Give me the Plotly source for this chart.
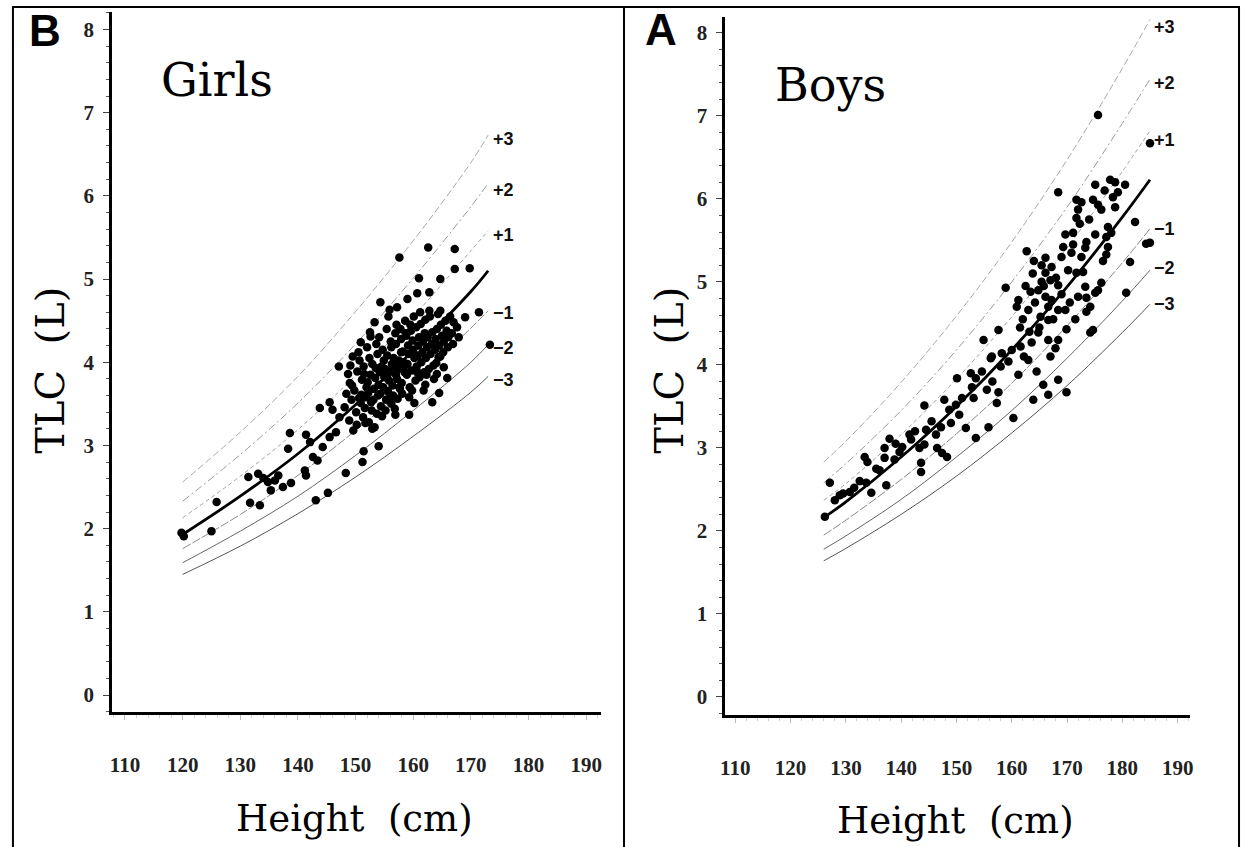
import plotly.graph_objects as go

# ---------------- data ----------------
sd_labels = ["+3", "+2", "+1", "\u22121", "\u22122", "\u22123"]

# girls reference curves (height cm -> TLC L)
girls_curve_height = [120, 130, 140, 150, 160, 170, 173]
girls_mean = [1.93, 2.39, 2.90, 3.49, 4.14, 4.85, 5.10]
girls_p3 = [2.56, 3.16, 3.83, 4.61, 5.46, 6.40, 6.73]
girls_p2 = [2.33, 2.89, 3.51, 4.22, 5.01, 5.87, 6.15]
girls_p1 = [2.13, 2.63, 3.19, 3.84, 4.55, 5.34, 5.58]
girls_m1 = [1.76, 2.17, 2.64, 3.18, 3.77, 4.41, 4.62]
girls_m2 = [1.59, 1.97, 2.39, 2.88, 3.42, 4.00, 4.21]
girls_m3 = [1.45, 1.79, 2.18, 2.62, 3.11, 3.64, 3.83]
girls_label_height = 175.7
girls_label_tlc = [6.68, 6.07, 5.53, 4.59, 4.17, 3.79]

# boys reference curves
boys_curve_height = [126, 130, 140, 150, 160, 170, 180, 185]
boys_mean = [2.16, 2.35, 2.89, 3.50, 4.18, 4.94, 5.78, 6.23]
boys_p3 = [2.83, 3.08, 3.79, 4.59, 5.48, 6.47, 7.57, 8.16]
boys_p2 = [2.58, 2.81, 3.45, 4.18, 5.00, 5.90, 6.91, 7.44]
boys_p1 = [2.37, 2.57, 3.16, 3.83, 4.58, 5.41, 6.33, 6.82]
boys_m1 = [1.95, 2.13, 2.62, 3.17, 3.78, 4.47, 5.23, 5.64]
boys_m2 = [1.78, 1.94, 2.38, 2.89, 3.45, 4.08, 4.77, 5.14]
boys_m3 = [1.64, 1.79, 2.20, 2.66, 3.18, 3.75, 4.39, 4.73]
boys_label_height = 187.7
boys_label_tlc = [8.07, 7.39, 6.71, 5.64, 5.17, 4.73]

# individual measurements (height, TLC)
girls_points = [
    (119.8, 1.95), (120.2, 1.91), (125.0, 1.97), (125.9, 2.32), (131.4, 2.62), (133.1, 2.66),
    (131.7, 2.31), (133.4, 2.28), (134.0, 2.61), (134.8, 2.56), (136.0, 2.58), (136.6, 2.64),
    (137.4, 2.50), (135.3, 2.46), (138.8, 2.55), (138.6, 3.15), (138.3, 2.96), (141.4, 3.13),
    (142.1, 3.04), (141.2, 2.70), (141.4, 2.64), (143.1, 2.34), (145.2, 2.43), (148.3, 2.67),
    (143.8, 3.45), (145.5, 3.52), (146.0, 3.43), (142.6, 2.86), (143.4, 2.82), (144.3, 2.98),
    (145.5, 3.10), (146.6, 3.16), (147.2, 3.34), (148.1, 3.46), (149.0, 3.75), (151.2, 2.80),
    (151.4, 2.93), (154.0, 2.99),
    (157.6, 5.26), (162.6, 5.38), (167.2, 5.36), (167.2, 5.12), (169.8, 5.13), (161.0, 5.01),
    (164.7, 5.00), (160.7, 4.83), (162.8, 4.84), (159.0, 4.76), (154.3, 4.72), (155.9, 4.63),
    (157.2, 4.66), (169.0, 4.54), (171.4, 4.60), (173.3, 4.21), (147.1, 3.95), (149.5, 4.07),
    (150.9, 4.24), (152.6, 4.31), (164.7, 4.07), (165.3, 3.94), (164.1, 3.86), (165.9, 3.81),
    (162.1, 3.73), (164.5, 3.63), (163.3, 3.52), (160.2, 3.51), (156.9, 3.37), (159.3, 3.37),
    (151.7, 3.27), (153.3, 3.22),
    (148.4, 3.62), (148.7, 3.86), (148.9, 3.30), (149.3, 3.55), (149.1, 3.96), (149.6, 3.18),
    (149.4, 3.72), (150.1, 3.40), (149.8, 3.66), (150.3, 3.89), (150.5, 4.12), (150.2, 3.25),
    (150.9, 3.51), (151.1, 3.79), (150.7, 4.02), (151.3, 3.34), (151.0, 3.61), (151.6, 3.45),
    (151.9, 3.70), (151.4, 3.95), (152.0, 4.18), (151.8, 3.58), (152.3, 3.28), (152.2, 3.63),
    (152.6, 3.85), (152.4, 4.05), (152.8, 3.42), (152.1, 3.76), (152.9, 3.20), (152.5, 4.36),
    (153.1, 3.55), (153.4, 3.81), (152.9, 3.98), (153.6, 4.22), (153.2, 3.68), (153.7, 3.38),
    (153.3, 4.48), (153.9, 3.60), (154.2, 3.88), (153.8, 4.10), (154.4, 3.47), (154.0, 3.73),
    (154.5, 3.95), (154.1, 4.30), (154.6, 3.35), (154.8, 3.70), (155.1, 3.92), (154.7, 4.15),
    (155.3, 3.55), (155.0, 3.82), (155.4, 4.40), (155.2, 3.42), (154.9, 4.02), (155.6, 3.65),
    (155.9, 3.90), (155.5, 4.08), (156.1, 4.25), (155.8, 3.78), (156.2, 3.50), (155.7, 4.55),
    (156.3, 3.98), (156.4, 3.72), (156.7, 3.95), (156.2, 4.18), (156.9, 4.35), (156.5, 3.60),
    (157.0, 3.85), (156.6, 4.05), (157.1, 4.45), (156.8, 3.44), (157.2, 3.80), (157.5, 4.02),
    (157.0, 4.22), (157.7, 3.68), (157.4, 3.92), (157.8, 4.40), (157.3, 3.56), (157.9, 4.12),
    (158.0, 3.75), (158.3, 4.00), (157.9, 4.28), (158.5, 3.88), (158.2, 4.13), (158.6, 4.50),
    (158.1, 3.62), (158.7, 4.35), (158.9, 3.85), (159.2, 4.10), (158.8, 4.32), (159.4, 3.70),
    (159.0, 3.98), (159.5, 4.45), (159.1, 4.20), (159.3, 3.58), (159.7, 3.90), (160.0, 4.15),
    (159.6, 4.38), (160.2, 4.05), (159.9, 4.26), (160.4, 3.78), (160.1, 4.55), (160.6, 3.95),
    (160.9, 4.20), (160.5, 4.42), (161.1, 3.82), (160.8, 4.08), (161.2, 4.60), (161.0, 4.30),
    (161.4, 4.00), (161.7, 4.25), (161.3, 4.46), (161.9, 3.88), (161.6, 4.12), (162.0, 4.35),
    (161.8, 3.66), (162.2, 4.05), (162.5, 4.30), (162.1, 4.51), (162.7, 3.92), (162.4, 4.18),
    (162.8, 4.62), (163.0, 4.10), (163.3, 4.36), (162.9, 4.55), (163.5, 3.96), (163.2, 4.22),
    (163.6, 3.80), (163.8, 4.15), (164.1, 4.40), (163.9, 4.28), (164.3, 4.58), (164.0, 3.99),
    (164.5, 4.20), (164.8, 4.45), (164.4, 4.06), (165.0, 4.32), (164.7, 4.62), (165.3, 4.25),
    (165.6, 4.50), (165.2, 4.12), (165.8, 4.38), (166.1, 4.30), (166.4, 4.55), (166.0, 4.18),
    (166.7, 4.35), (167.0, 4.48), (166.9, 4.22), (167.6, 4.42), (167.9, 4.30),
    (150.6, 3.57), (151.5, 3.86), (152.7, 3.52), (153.5, 3.93), (154.3, 3.62), (155.6, 3.86),
    (156.0, 3.58), (157.6, 3.70), (158.4, 3.95), (159.8, 3.66), (160.7, 3.88), (162.3, 3.85),
]

boys_points = [
    (126.2, 2.17), (127.1, 2.58), (128.0, 2.37), (128.9, 2.43), (130.7, 2.47), (129.5, 2.45),
    (131.5, 2.52), (132.5, 2.60), (133.4, 2.89), (133.9, 2.83), (133.7, 2.58), (134.6, 2.46),
    (135.5, 2.75), (136.1, 2.73), (137.0, 3.00), (137.9, 3.11), (137.0, 2.88), (137.3, 2.55),
    (138.8, 2.86), (139.0, 3.05), (139.7, 2.95), (140.2, 3.01), (141.5, 3.16), (141.8, 3.10),
    (142.5, 3.20), (143.3, 3.00), (143.6, 2.82), (143.6, 2.71), (144.2, 3.51), (144.5, 3.22),
    (144.2, 3.04), (145.5, 3.32), (146.3, 3.16), (146.5, 3.00), (147.2, 3.25), (147.4, 2.94),
    (148.3, 2.89), (147.8, 3.58), (148.7, 3.46), (149.0, 3.30), (149.9, 3.52), (150.1, 3.84),
    (150.5, 3.40), (151.0, 3.60), (151.7, 3.24), (152.6, 3.90), (152.8, 3.73), (153.1, 3.60),
    (153.5, 3.12), (153.5, 3.84), (154.6, 3.92), (154.9, 4.30), (155.5, 3.70), (155.8, 3.25),
    (156.2, 4.08), (156.5, 3.80), (157.3, 3.54), (157.6, 3.67), (157.6, 4.42), (158.0, 3.98),
    (175.6, 7.01), (185.0, 6.67), (168.4, 6.08), (175.1, 6.17), (177.8, 6.23), (178.7, 6.20),
    (180.5, 6.17), (179.2, 6.08), (178.3, 6.02), (171.7, 5.99), (172.6, 5.96), (174.7, 5.99),
    (175.6, 5.93), (176.2, 5.87), (178.7, 5.90), (172.0, 5.87), (171.7, 5.77), (182.3, 5.72),
    (184.3, 5.46), (185.0, 5.47), (181.4, 5.24), (180.7, 4.87), (177.4, 5.66), (178.0, 5.59),
    (177.1, 5.54), (177.4, 5.42), (177.1, 5.33), (175.1, 5.57), (173.5, 5.48), (173.3, 5.41),
    (172.6, 5.30), (171.1, 5.59), (169.7, 5.57), (169.3, 5.42), (171.1, 5.45), (169.0, 5.30),
    (162.7, 5.37), (166.1, 5.29), (165.4, 5.20), (166.1, 5.11), (167.2, 5.18), (167.0, 5.02),
    (165.4, 5.00), (168.4, 4.96), (170.2, 5.14), (171.7, 5.11), (172.9, 5.12), (173.3, 4.94),
    (172.0, 4.82), (173.5, 4.81), (175.1, 4.87), (176.2, 4.99), (175.6, 4.90), (174.2, 4.70),
    (173.5, 4.64), (174.7, 4.42), (174.2, 4.39), (164.8, 4.90), (166.1, 4.82), (167.2, 4.78),
    (166.6, 4.70), (168.4, 4.66), (169.7, 4.66), (163.4, 4.88), (163.0, 4.66), (161.2, 4.78),
    (160.9, 4.70), (165.2, 4.58), (166.6, 4.54), (169.9, 4.43), (158.9, 4.93), (168.4, 4.30),
    (166.6, 4.30), (164.8, 4.39), (163.6, 4.27), (161.6, 4.22), (160.0, 4.18), (158.2, 4.14),
    (156.4, 4.10), (167.9, 4.20), (167.0, 4.10), (159.4, 4.04), (161.2, 3.88), (163.0, 4.06),
    (164.5, 3.92), (165.7, 3.76), (166.6, 3.64), (163.9, 3.58), (160.3, 3.36), (168.4, 3.82),
    (169.9, 3.67), (162.0, 4.55), (162.5, 4.95), (163.8, 5.10), (164.2, 4.75), (165.0, 4.45),
    (165.8, 4.95), (164.0, 5.25), (163.2, 4.40), (162.2, 4.10), (161.5, 4.45), (167.5, 4.55),
    (168.0, 5.05), (169.0, 4.85), (170.5, 4.75), (171.5, 4.55), (170.8, 5.35), (172.3, 5.70),
    (174.0, 5.75), (176.5, 5.25), (176.8, 6.10),
]

x_ticks = [110, 120, 130, 140, 150, 160, 170, 180, 190]
y_ticks = [0, 1, 2, 3, 4, 5, 6, 7, 8]

# ---------------- figure ----------------
W, H = 1246, 847

serif = "DejaVu Serif"
tick_serif = "Liberation Serif, Times New Roman, serif"
sans = "Liberation Sans, Arial, sans-serif"

# line styles for +3 .. -3
sd_styles = [
    dict(color="#a8a8a8", width=1, dash="7px,3px"),
    dict(color="#9a9a9a", width=1, dash="8px,3px,2px,3px"),
    dict(color="#a0a0a0", width=1, dash="4px,3px"),
    dict(color="#888888", width=1, dash="9px,2px"),
    dict(color="#666666", width=1),
    dict(color="#555555", width=1),
]

fig = go.Figure()


def add_panel(xa, ya, curve_h, mean, sds, points, label_h, label_tlc):
    for vals, style in zip(sds, sd_styles):
        fig.add_trace(go.Scatter(
            x=curve_h, y=vals, mode="lines", line=dict(shape="spline", **style),
            xaxis=xa, yaxis=ya, showlegend=False, hoverinfo="skip",
        ))
    fig.add_trace(go.Scatter(
        x=[p[0] for p in points], y=[p[1] for p in points], mode="markers",
        marker=dict(color="black", size=8.5, line=dict(width=0)),
        xaxis=xa, yaxis=ya, showlegend=False,
    ))
    fig.add_trace(go.Scatter(
        x=curve_h, y=mean, mode="lines", line=dict(color="black", width=2.8, shape="spline"),
        xaxis=xa, yaxis=ya, showlegend=False, hoverinfo="skip",
    ))
    for lab, yv in zip(sd_labels, label_tlc):
        fig.add_annotation(
            x=label_h, y=yv, xref=xa, yref=ya, text=lab, showarrow=False,
            font=dict(family=sans, size=18, color="#111", weight="bold"),
        )


add_panel("x", "y", girls_curve_height, girls_mean,
          [girls_p3, girls_p2, girls_p1, girls_m1, girls_m2, girls_m3],
          girls_points, girls_label_height, girls_label_tlc)
add_panel("x2", "y2", boys_curve_height, boys_mean,
          [boys_p3, boys_p2, boys_p1, boys_m1, boys_m2, boys_m3],
          boys_points, boys_label_height, boys_label_tlc)

tickfont = dict(family=tick_serif, size=21, color="#222", weight="bold")


def x_axis(domain, rng, anchor):
    return dict(
        domain=domain, range=rng, anchor=anchor, showgrid=False, zeroline=False,
        showline=True, linecolor="black", linewidth=3,
        tickmode="array", tickvals=x_ticks, ticks="outside", ticklen=5, tickcolor="#bbb",
        minor=dict(ticks="outside", ticklen=3, dtick=2, tickcolor="#cfcfcf", showgrid=False),
        tickfont=tickfont, ticklabelstandoff=27, fixedrange=True,
    )


def y_axis(domain, rng, anchor):
    return dict(
        domain=domain, range=rng, anchor=anchor, showgrid=False, zeroline=False,
        showline=True, linecolor="black", linewidth=3,
        tickmode="array", tickvals=y_ticks, ticks="outside", ticklen=6, tickcolor="#444",
        minor=dict(ticks="outside", ticklen=3, dtick=0.2, tickcolor="#555", showgrid=False),
        tickfont=tickfont, ticklabelstandoff=5, fixedrange=True,
    )


fig.update_layout(
    width=W, height=H, autosize=False,
    margin=dict(l=0, r=0, t=0, b=0),
    paper_bgcolor="white", plot_bgcolor="white",
    xaxis=x_axis([108 / W, 600 / W], [107.8, 192.6], "y"),
    yaxis=y_axis([1 - 712 / H, 1 - 12 / H], [-0.204, 8.21], "x"),
    xaxis2=x_axis([725 / W, 1193 / W], [108.2, 192.3], "y2"),
    yaxis2=y_axis([1 - 715 / H, 1 - 17 / H], [-0.217, 8.19], "x2"),
)

# panel frames
for x0, x1 in [(8, 623), (623, 1242)]:
    fig.add_shape(type="rect", xref="paper", yref="paper",
                  x0=x0 / W, x1=x1 / W, y0=-0.02, y1=1 - 7 / H,
                  line=dict(color="black", width=2))

# panel texts
texts = [
    ("B", 40, 31, dict(family=sans, size=44, color="black", weight="bold"), 0),
    ("A", 660, 30, dict(family=sans, size=44, color="black", weight="bold"), 0),
    ("Girls", 213, 80, dict(family=serif, size=46, color="black"), 0),
    ("Boys", 831, 85, dict(family=serif, size=46, color="black"), 0),
    ("TLC\u00a0\u00a0(L)", 45, 370, dict(family=serif, size=40, color="black"), -90),
    ("TLC\u00a0\u00a0(L)", 668, 370, dict(family=serif, size=40, color="black"), -90),
    ("Height\u00a0\u00a0(cm)", 352, 818, dict(family=serif, size=37, color="black"), 0),
    ("Height\u00a0\u00a0(cm)", 957, 820, dict(family=serif, size=37, color="black"), 0),
]
for txt, px, py, font, ang in texts:
    fig.add_annotation(x=px / W, y=1 - py / H, xref="paper", yref="paper",
                       text=txt, showarrow=False, font=font, textangle=ang,
                       xanchor="center", yanchor="middle")

# the page body has a default margin; drop it so the figure fills the window
fig.write_html("out.html", config={"displayModeBar": False},
               post_script="document.body.style.margin='0';")
